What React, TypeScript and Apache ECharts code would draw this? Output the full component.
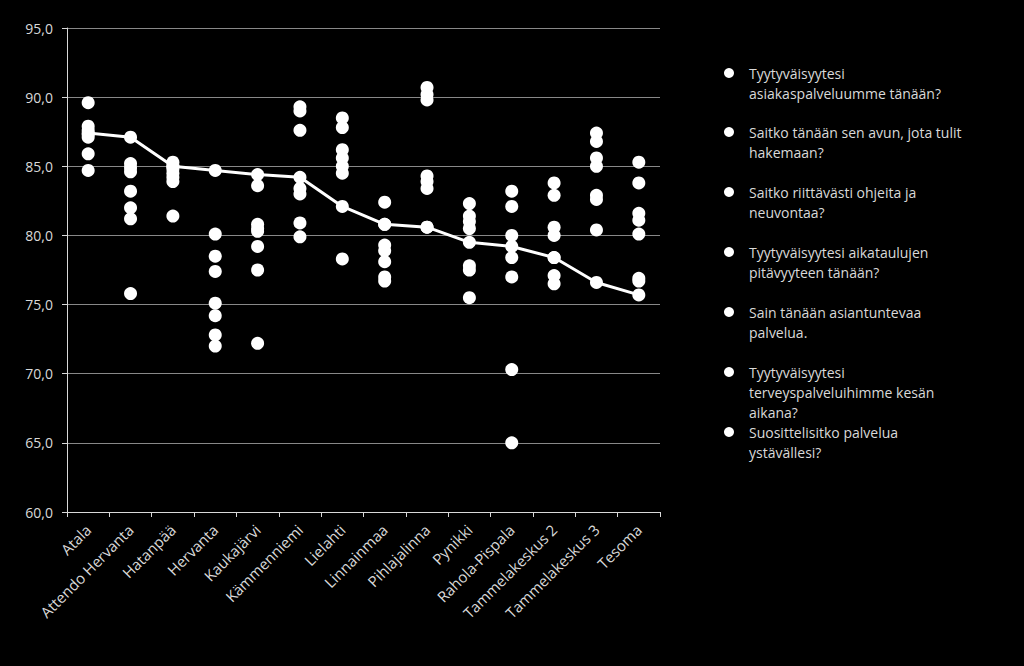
import React, { useEffect, useRef } from 'react';
import * as echarts from 'echarts';

const categories = [
  'Atala', 'Attendo Hervanta', 'Hatanpää', 'Hervanta', 'Kaukajärvi', 'Kämmenniemi', 'Lielahti',
  'Linnainmaa', 'Pihlajalinna', 'Pynikki', 'Rahola-Pispala', 'Tammelakeskus 2', 'Tammelakeskus 3', 'Tesoma',
];

const seriesNames = [
  'Tyytyväisyytesi asiakaspalveluumme tänään?',
  'Saitko tänään sen avun, jota tulit hakemaan?',
  'Saitko riittävästi ohjeita ja neuvontaa?',
  'Tyytyväisyytesi aikataulujen pitävyyteen tänään?',
  'Sain tänään asiantuntevaa palvelua.',
  'Tyytyväisyytesi terveyspalveluihimme kesän aikana?',
  'Suosittelisitko palvelua ystävällesi?',
];

const legendLines = [
  ['Tyytyväisyytesi', 'asiakaspalveluumme tänään?'],
  ['Saitko tänään sen avun, jota tulit', 'hakemaan?'],
  ['Saitko riittävästi ohjeita ja', 'neuvontaa?'],
  ['Tyytyväisyytesi aikataulujen', 'pitävyyteen tänään?'],
  ['Sain tänään asiantuntevaa', 'palvelua.'],
  ['Tyytyväisyytesi', 'terveyspalveluihimme kesän', 'aikana?'],
  ['Suosittelisitko palvelua', 'ystävällesi?'],
];

const q1 = [89.6, 85.2, 85.3, 80.1, 83.6, 89.3, 88.5, 82.4, 90.7, 82.3, 83.2, 83.8, 87.4, 85.3];
const q2 = [87.9, 84.9, 85.0, 78.5, 80.8, 89.0, 87.8, 80.8, 90.2, 81.4, 82.1, 82.9, 86.8, 83.8];
const q3 = [87.6, 84.6, 84.8, 77.4, 80.5, 87.6, 86.2, 79.3, 89.8, 81.0, 80.0, 80.6, 85.6, 81.6];
const q4 = [87.3, 83.2, 84.5, 75.1, 80.3, 83.4, 85.6, 78.9, 84.3, 80.5, 78.4, 80.0, 85.0, 81.1];
const q5 = [87.1, 82.0, 84.2, 74.2, 79.2, 83.0, 85.0, 78.1, 83.9, 77.8, 77.0, 78.4, 82.9, 80.1];
const q6 = [85.9, 81.2, 83.9, 72.8, 77.5, 80.9, 84.5, 77.0, 83.4, 77.5, 70.3, 77.1, 82.6, 76.9];
const q7 = [84.7, 75.8, 81.4, 72.0, 72.2, 79.9, 78.3, 76.7, 80.6, 75.5, 65.0, 76.5, 80.4, 76.7];
const questionValues = [q1, q2, q3, q4, q5, q6, q7];

const overall = [87.4, 87.1, 85.0, 84.7, 84.4, 84.2, 82.1, 80.8, 80.6, 79.5, 79.2, 78.4, 76.6, 75.7];

const yTicks = { min: 60, max: 95, interval: 5 };

const FONT = '"Open Sans", "Noto Sans", sans-serif';
const TEXT = '#d9d9d9';

export default function App() {
  const ref = useRef<HTMLDivElement>(null);

  useEffect(() => {
    if (!ref.current) return;
    const chart = echarts.init(ref.current, undefined, { renderer: 'svg' });

    const legendCenters = [72, 131, 191, 251, 311, 371, 431];
    const legends = seriesNames.map((name, i) => {
      const lines = legendLines[i];
      const pad = lines.length - 1;
      return {
        show: true,
        orient: 'vertical',
        left: 724,
        top: legendCenters[i] - 9 - 20 * pad,
        padding: 0,
        itemWidth: 30,
        itemHeight: 10,
        icon: 'circle',
        selectedMode: false,
        data: [name],
        itemStyle: { color: '#ffffff', opacity: 1 },
        formatter: () => '\n'.repeat(pad) + lines.join('\n'),
        textStyle: { color: TEXT, fontSize: 14, lineHeight: 20, fontFamily: FONT },
      };
    });

    const scatterSeries = seriesNames.map((name, i) => ({
      name,
      type: 'scatter',
      data: questionValues[i],
      symbol: 'circle',
      symbolSize: 13,
      itemStyle: { color: '#ffffff', opacity: 1 },
      z: 3,
    }));

    chart.setOption({
      animation: false,
      backgroundColor: '#000000',
      textStyle: { fontFamily: FONT },
      grid: { left: 67, top: 28, right: 364, bottom: 154, containLabel: false },
      legend: legends,
      xAxis: {
        type: 'category',
        data: categories,
        boundaryGap: true,
        axisLine: { show: true, lineStyle: { color: '#d9d9d9', width: 1 } },
        axisTick: { show: true, length: 5, lineStyle: { color: '#d9d9d9' } },
        axisLabel: { rotate: 45, color: TEXT, fontSize: 15, fontFamily: FONT, margin: 15, interval: 0 },
        splitLine: { show: false },
      },
      yAxis: {
        type: 'value',
        min: yTicks.min,
        max: yTicks.max,
        interval: yTicks.interval,
        axisLine: { show: true, lineStyle: { color: '#d9d9d9', width: 1 } },
        axisTick: { show: true, length: 5, lineStyle: { color: '#d9d9d9' } },
        axisLabel: {
          color: TEXT,
          fontSize: 14,
          fontFamily: FONT,
          margin: 14,
          formatter: (v: number) => v.toFixed(1).replace('.', ','),
        },
        splitLine: { show: true, lineStyle: { color: '#888888', width: 1 } },
      },
      series: [
        {
          name: 'Kokonaisarvio',
          type: 'line',
          data: overall,
          symbol: 'circle',
          symbolSize: 13,
          itemStyle: { color: '#ffffff', opacity: 1 },
          lineStyle: { color: '#ffffff', width: 3 },
          z: 2,
        },
        ...scatterSeries,
      ],
    });

    return () => chart.dispose();
  }, []);

  return (
    <div
      ref={ref}
      style={{ position: 'fixed', left: 0, top: 0, width: 1024, height: 666, background: '#000' }}
    />
  );
}
